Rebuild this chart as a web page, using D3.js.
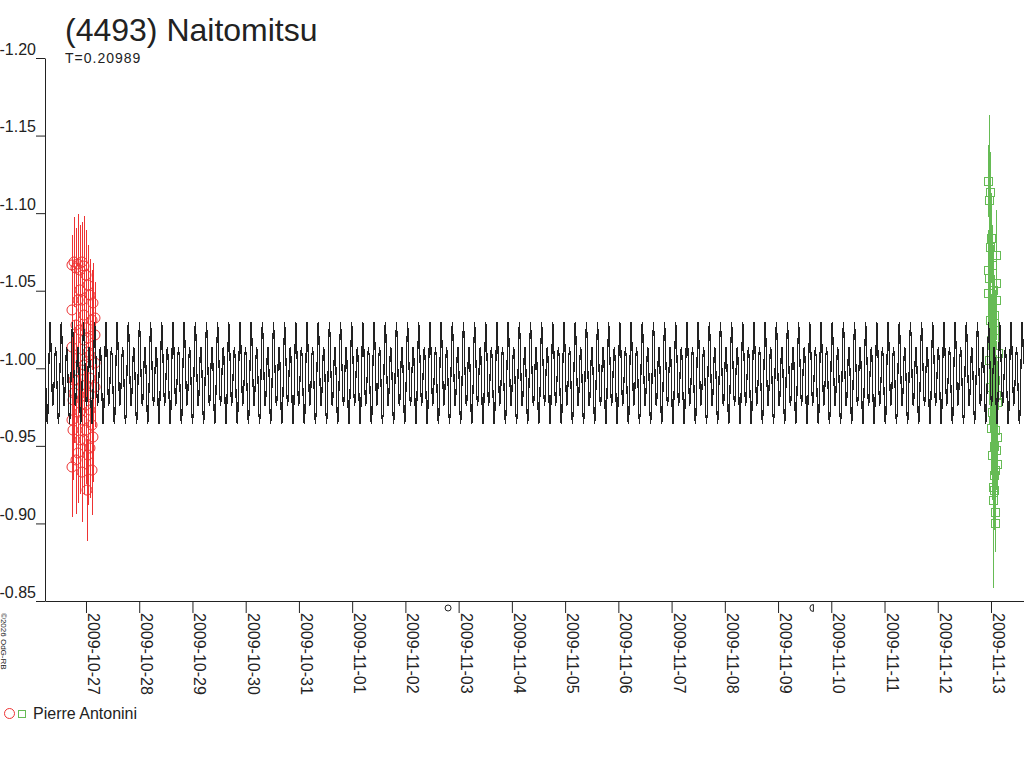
<!DOCTYPE html>
<html>
<head>
<meta charset="utf-8">
<script src="https://cdn.jsdelivr.net/npm/d3@7"></script>
<style>
  body { margin: 0; background: #fff; }
  text { font-family: "Liberation Sans", Arial, sans-serif; fill: #222; }
</style>
</head>
<body>
<svg id="chart" width="1024" height="768"></svg>
<script>
// chart values
const title = '(4493) Naitomitsu'
const period = 0.20989 // days
const observer = 'Pierre Antonini'
const copyright = '\u00a92026 OdG-RB'
const magTicks = [-1.20, -1.15, -1.10, -1.05, -1.00, -0.95, -0.90, -0.85]

// time is in days from 2009-10-27 00:00 UTC
const timeStart = -0.770
const timeEnd = 17.62

// one rotation of the fitted lightcurve, 16 phase steps, starting at the main maximum
const curveEpoch = -0.676
const curveShape = [-1.030, -1.022, -1.003, -0.985, -0.976, -0.979, -0.993, -1.008,
  -1.014, -1.008, -0.990, -0.972, -0.964, -0.970, -0.992, -1.016]

// [time, magnitude, error] first session (red circles)
const session1 = [
  [-0.263, -1.0666, 0.019], [-0.225, -1.0685, 0.029], [-0.188, -1.0646, 0.026],
  [-0.150, -1.0672, 0.032], [-0.113, -1.0633, 0.029], [-0.075, -1.0685, 0.026],
  [-0.038, -1.0659, 0.032], [0.000, -1.0601, 0.029], [0.038, -1.0537, 0.026],
  [0.075, -1.0472, 0.023], [0.131, -1.0421, 0.026], [-0.263, -1.0376, 0.029],
  [0.169, -1.0324, 0.023], [-0.188, -1.0279, 0.032], [-0.113, -1.0247, 0.029],
  [0.169, -1.0215, 0.026], [-0.038, -1.0182, 0.032], [-0.263, -1.0137, 0.032],
  [0.038, -1.0105, 0.029], [-0.150, -1.0066, 0.035], [0.169, -1.0034, 0.026],
  [-0.075, -0.9989, 0.032], [0.075, -0.9937, 0.029], [0.169, -0.9879, 0.026],
  [-0.225, -0.9841, 0.032], [-0.244, -0.9796, 0.029], [0.000, -0.9763, 0.035],
  [-0.113, -0.9718, 0.032], [-0.263, -0.9667, 0.029], [0.113, -0.9634, 0.029],
  [-0.244, -0.9602, 0.032], [0.131, -0.9557, 0.029], [-0.038, -0.9538, 0.035],
  [0.075, -0.9486, 0.032], [-0.150, -0.9454, 0.032], [-0.188, -0.9409, 0.035],
  [-0.263, -0.9364, 0.032], [-0.075, -0.9331, 0.032], [0.019, -0.9215, 0.033],
  [-0.225, -0.9924, 0.039], [-0.113, -1.0505, 0.032], [-0.075, -1.0440, 0.029],
  [-0.038, -1.0343, 0.035], [0.000, -1.0260, 0.032], [0.038, -1.0195, 0.035],
  [0.075, -1.0086, 0.032], [-0.038, -1.0021, 0.035], [0.000, -0.9892, 0.032],
  [0.038, -0.9828, 0.035], [0.075, -0.9731, 0.032], [-0.075, -0.9667, 0.032],
  [0.000, -0.9602, 0.035], [0.038, -0.9441, 0.032], [-0.113, -0.9538, 0.035],
  [-0.150, -1.0440, 0.035], [-0.188, -0.9924, 0.032], [0.113, -1.0311, 0.032],
  [0.113, -0.9344, 0.029]
]

// [time, magnitude, error] second session (green squares)
const session2 = [
  [16.942, -1.1207, 0.023], [16.980, -1.1136, 0.026], [16.961, -1.1085, 0.055],
  [16.999, -1.0840, 0.029], [16.980, -1.0782, 0.026], [17.093, -1.0730, 0.029],
  [16.942, -1.0633, 0.026], [16.961, -1.0582, 0.029], [17.093, -1.0550, 0.026],
  [16.942, -1.0485, 0.029], [17.093, -1.0440, 0.026], [17.018, -1.0389, 0.026],
  [16.980, -1.0311, 0.029], [17.074, -1.0247, 0.026], [16.999, -1.0182, 0.029],
  [17.130, -1.0098, 0.026], [16.961, -1.0053, 0.029], [17.055, -0.9976, 0.026],
  [16.980, -0.9879, 0.029], [17.093, -0.9828, 0.026], [17.112, -0.9783, 0.026],
  [17.018, -0.9718, 0.029], [17.036, -0.9667, 0.026], [16.999, -0.9615, 0.029],
  [17.112, -0.9557, 0.026], [17.055, -0.9499, 0.026], [17.018, -0.9441, 0.029],
  [17.112, -0.9383, 0.026], [17.055, -0.9312, 0.029], [17.036, -0.9235, 0.026],
  [17.036, -0.9151, 0.057], [17.074, -0.9074, 0.023], [17.074, -0.9003, 0.019],
  [17.018, -1.0666, 0.026], [17.036, -1.0505, 0.029], [17.055, -1.0343, 0.026],
  [17.018, -1.0150, 0.029], [17.036, -1.0021, 0.026], [17.074, -0.9924, 0.029],
  [17.055, -0.9763, 0.026], [17.074, -0.9602, 0.029], [17.093, -0.9473, 0.026],
  [17.074, -0.9344, 0.029], [17.055, -0.9215, 0.026]
]

const moonPhases = [
  { date: '2009-11-02T19:14:00Z', kind: 'full' },
  { date: '2009-11-09T15:56:00Z', kind: 'lastQuarter' }
]

const red = '#ee3333'
const green = '#66bb55'
const ink = '#222'

const base = Date.UTC(2009, 9, 27)
const toDate = t => new Date(base + t * 864e5)

const svg = d3.select('#chart')
svg.append('rect').attr('width', 1024).attr('height', 768).attr('fill', '#fff')

const x = d3.scaleUtc().domain([toDate(timeStart), toDate(timeEnd)]).range([45, 1024])
const y = d3.scaleLinear().domain([-1.20, -0.85]).range([58, 601])

// error bars and markers
function drawSession (data, color, shape) {
  const g = svg.append('g')
  g.selectAll('line.err')
    .data(data)
    .enter().append('line').classed('err', true)
    .attr('x1', d => Math.round(x(toDate(d[0]))) + 0.5)
    .attr('x2', d => Math.round(x(toDate(d[0]))) + 0.5)
    .attr('y1', d => y(d[1] - d[2]))
    .attr('y2', d => y(d[1] + d[2]))
    .attr('stroke', color).attr('stroke-width', 1.3)
    .attr('shape-rendering', 'crispEdges')
  if (shape === 'circle') {
    g.selectAll('circle.obs')
      .data(data)
      .enter().append('circle').classed('obs', true)
      .attr('cx', d => x(toDate(d[0])))
      .attr('cy', d => y(d[1]))
      .attr('r', 5)
      .attr('fill', 'none').attr('stroke', color)
  } else {
    g.selectAll('rect.obs')
      .data(data)
      .enter().append('rect').classed('obs', true)
      .attr('x', d => Math.round(x(toDate(d[0]))) - 3.5)
      .attr('y', d => Math.round(y(d[1])) - 3.5)
      .attr('width', 8).attr('height', 8)
      .attr('fill', 'none').attr('stroke', color)
      .attr('shape-rendering', 'crispEdges')
  }
}
drawSession(session1, red, 'circle')
drawSession(session2, green, 'square')

// fitted curve, the read shape repeated once per rotation period
const curvePoints = []
const firstCycle = Math.floor((timeStart - curveEpoch) / period)
const lastCycle = Math.ceil((timeEnd - curveEpoch) / period)
for (let c = firstCycle; c <= lastCycle; c++) {
  curveShape.forEach((m, j) => {
    const t = curveEpoch + (c + j / curveShape.length) * period
    if (t >= timeStart && t <= timeEnd) curvePoints.push([t, m])
  })
}
svg.append('path')
  .datum(curvePoints)
  .attr('fill', 'none')
  .attr('stroke', ink)
  .attr('stroke-width', 1.2)
  .attr('shape-rendering', 'crispEdges')
  .attr('d', d3.line().x(d => x(toDate(d[0]))).y(d => y(d[1])))

// axes
const yAxis = svg.append('g')
  .attr('transform', 'translate(45,0)')
  .call(d3.axisLeft(y).tickValues(magTicks).tickSize(9).tickSizeOuter(0)
    .tickFormat(d => d.toFixed(2)))
yAxis.selectAll('text')
  .attr('x', -9).attr('dy', '-0.25em')
  .style('font-size', '16px').style('font-family', '"Liberation Sans", Arial, sans-serif')
  .attr('fill', ink)

const xAxis = svg.append('g')
  .attr('transform', 'translate(0,601)')
  .call(d3.axisBottom(x).tickValues(d3.utcDay.range(toDate(0), toDate(17.5)))
    .tickSize(12).tickSizeOuter(0).tickFormat(d3.utcFormat('%Y-%m-%d')))
xAxis.selectAll('text')
  .attr('transform', 'rotate(90)')
  .attr('x', 12).attr('y', -1.5).attr('dy', 0)
  .style('text-anchor', 'start')
  .style('font-size', '16px').style('font-family', '"Liberation Sans", Arial, sans-serif')
  .attr('fill', ink)

svg.selectAll('.domain, .tick line').attr('stroke', ink)

// moon phase symbols below the time axis
const moon = svg.append('g')
moonPhases.forEach(p => {
  const cx = x(new Date(p.date))
  const cy = 608
  if (p.kind === 'full') {
    moon.append('circle').attr('cx', cx).attr('cy', cy).attr('r', 3)
      .attr('fill', 'none').attr('stroke', ink)
  } else {
    moon.append('path')
      .attr('d', `M${cx},${cy - 3.5}A3.5,3.5 0 0 0 ${cx},${cy + 3.5}Z`)
      .attr('fill', 'none').attr('stroke', ink)
  }
})

// titles
svg.append('text').attr('x', 65).attr('y', 41)
  .style('font-size', '32px').text(title)
svg.append('text').attr('x', 65).attr('y', 63)
  .style('font-size', '14px').style('letter-spacing', '1px')
  .text('T=' + period)

svg.append('text')
  .attr('transform', 'translate(1,613) rotate(90)')
  .style('font-size', '8px').text(copyright)

// legend
svg.append('circle').attr('cx', 9.5).attr('cy', 713.5).attr('r', 5)
  .attr('fill', 'none').attr('stroke', red)
svg.append('rect').attr('x', 18.5).attr('y', 710.5).attr('width', 7).attr('height', 7)
  .attr('fill', 'none').attr('stroke', green)
  .attr('shape-rendering', 'crispEdges')
svg.append('text').attr('x', 33).attr('y', 719)
  .style('font-size', '16px').text(observer)
</script>
</body>
</html>
